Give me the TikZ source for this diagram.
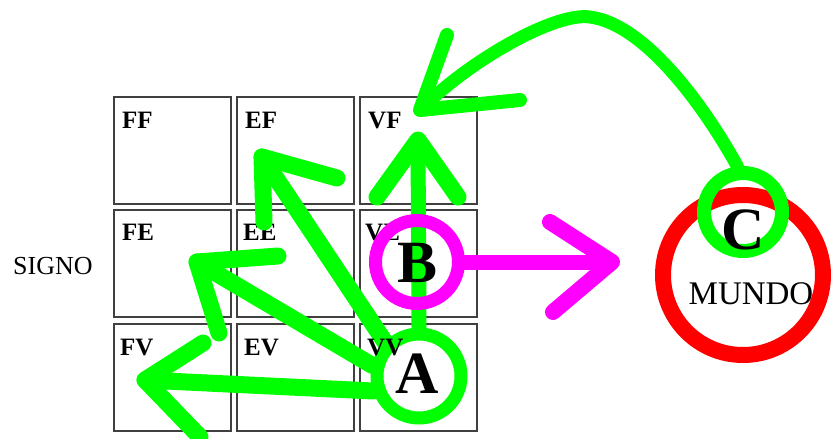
\documentclass[tikz,border=0pt]{standalone}
\usepackage{fontspec}
\setmainfont{Liberation Serif}
\definecolor{gr}{RGB}{0,255,0}
\definecolor{mg}{RGB}{255,0,255}
\definecolor{rd}{RGB}{255,0,0}
\pgfdeclarelayer{paper}
\pgfdeclarelayer{grid}
\pgfdeclarelayer{lines}
\pgfsetlayers{paper,grid,lines,main}
\tikzset{
  cell/.style={draw=black!75, line width=2pt, minimum width=117pt, minimum height=107pt, inner sep=0pt, outer sep=0pt},
  lab/.style={anchor=base west, inner sep=0pt, font=\fontsize{25}{30}\selectfont\bfseries},
  big/.style={anchor=base, inner sep=0pt, font=\fontsize{60}{66}\selectfont\bfseries},
  ring/.style={circle, draw=#1, line width=13pt, inner sep=0pt},
  garrow/.style={draw=gr, line width=17pt, line cap=round, line join=round},
  marrow/.style={draw=mg, line width=15pt, line cap=round, line join=round},
}
\begin{document}
\begin{tikzpicture}[x=1pt, y=-1pt]
\begin{pgfonlayer}{paper}
\fill[white] (0,0) rectangle (833,439);
\end{pgfonlayer}
\useasboundingbox (0,0) rectangle (833,439);

% rings (main layer)
\node[ring=rd, line width=16pt, minimum size=160pt] (M) at (743,275) {};
\node[ring=gr, minimum size=84pt] (A) at (419,376) {};
\node[ring=mg, minimum size=83pt] (B) at (417,262) {};
\node[ring=gr, line width=14pt, minimum size=78pt] (C) at (743,212) {};

% letters
\node[big] (Al) at (417,393) {A};
\node[big] (Bl) at (418,282) {B};
\node[big] (Cl) at (743,249) {C};
\node[anchor=base, inner sep=0pt, font=\fontsize{33}{38}\selectfont] (mundo) at (751,304) {MUNDO};
\node[lab] (lvv) at (367,355) {VV};

% grid
\begin{pgfonlayer}{grid}
\node[cell] (ff) at (172,150) {};
\node[cell] (ef) at (295,150) {};
\node[cell] (vf) at (418,150) {};
\node[cell] (fe) at (172,263.5) {};
\node[cell] (ee) at (295,263.5) {};
\node[cell] (ve) at (418,263.5) {};
\node[cell] (fv) at (172,377) {};
\node[cell] (ev) at (295,377) {};
\node[cell] (vv) at (418,377) {};
\node[lab] (lff) at (122,128) {FF};
\node[lab] (lef) at (245,128) {EF};
\node[lab] (lvf) at (368,128) {VF};
\node[lab] (lfe) at (122,240) {FE};
\node[lab] (lee) at (243,240) {EE};
\node[lab] (lve) at (365,240) {VE};
\node[lab] (lfv) at (120,355) {FV};
\node[lab] (lev) at (244,355) {EV};
\node[anchor=base west, inner sep=0pt, font=\fontsize{26}{30}\selectfont] (signo) at (13,274) {SIGNO};
\end{pgfonlayer}

% arrows
\begin{pgfonlayer}{lines}
\coordinate (tVF) at (418,140);
\coordinate (tFV) at (145,380);
\coordinate (tFE) at (197,262);
\coordinate (tEF) at (262,157);
\coordinate (tB) at (612,262);
\coordinate (tC) at (420,110);

\draw[garrow, line width=15pt] (A.north) -- (tVF);
\draw[garrow] (377,197) -- (tVF) -- (458,197);

\draw[garrow] (A.198) -- (tFV);
\draw[garrow] (203,343) -- (tFV) -- (200,437);

\draw[garrow] (A.167) -- (tFE);
\draw[garrow] (278,256) -- (tFE) -- (219,333);

\draw[garrow] (A.135) -- (tEF);
\draw[garrow] (337,178) -- (tEF) -- (264,222);

\draw[marrow] (B.east) -- (tB);
\draw[marrow, line width=16pt] (550,222) -- (tB) -- (553,312);

\draw[garrow, line width=13pt] (C.97) .. controls (712,120) and (650,25) .. (590,17)
      .. controls (555,12) and (470,60) .. (tC);
\draw[garrow, line width=14pt] (447,35) -- (tC) -- (520,100);
\end{pgfonlayer}
\end{tikzpicture}
\end{document}
